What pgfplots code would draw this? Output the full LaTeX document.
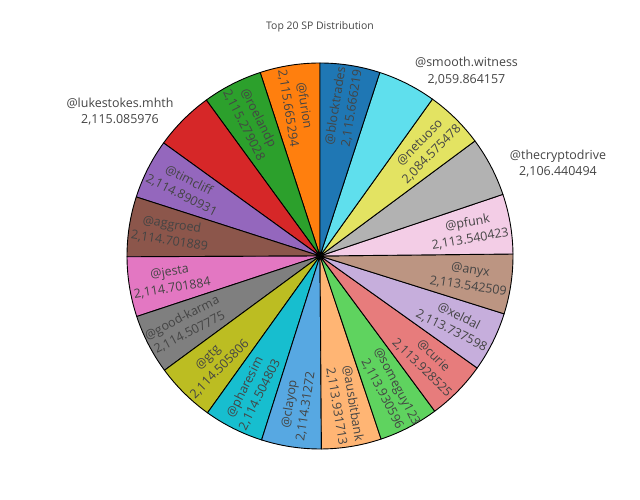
\documentclass[border=0pt]{standalone}
\usepackage{pgfplots}
\pgfplotsset{compat=1.18}
\usepackage{pgfplotstable}
\usepackage{fontspec}
\setmainfont{Open Sans}

\definecolor{txt}{HTML}{444444}
\definecolor{cFurion}{HTML}{FF7F0E}
\definecolor{cRoelandp}{HTML}{2CA02C}
\definecolor{cLuke}{HTML}{D62728}
\definecolor{cTimcliff}{HTML}{9467BD}
\definecolor{cAggroed}{HTML}{8C564B}
\definecolor{cJesta}{HTML}{E377C2}
\definecolor{cKarma}{HTML}{7F7F7F}
\definecolor{cGtg}{HTML}{BCBD22}
\definecolor{cPharesim}{HTML}{17BECF}
\definecolor{cClayop}{HTML}{57A8E2}
\definecolor{cAusbit}{HTML}{FFB574}
\definecolor{cSomeguy}{HTML}{5FD35F}
\definecolor{cCurie}{HTML}{E77C7C}
\definecolor{cXeldal}{HTML}{C6AEDC}
\definecolor{cAnyx}{HTML}{BC9582}
\definecolor{cPfunk}{HTML}{F3CDE6}
\definecolor{cCrypto}{HTML}{B2B2B2}
\definecolor{cNetuoso}{HTML}{E3E362}
\definecolor{cSmooth}{HTML}{5FDFED}
\definecolor{cBlock}{HTML}{1F77B4}

% slices counterclockwise from 12 o'clock; out=1: label outside at (lx,ly)
\pgfplotstableread{
name value num col out lx ly
@furion 2115.665294 2,115.665294 cFurion 0 0 0
@roelandp 2115.279028 2,115.279028 cRoelandp 0 0 0
@lukestokes.mhth 2115.085976 2,115.085976 cLuke 1 -200 144.5
@timcliff 2114.890931 2,114.890931 cTimcliff 0 0 0
@aggroed 2114.701889 2,114.701889 cAggroed 0 0 0
@jesta 2114.701884 2,114.701884 cJesta 0 0 0
@good-karma 2114.507775 2,114.507775 cKarma 0 0 0
@gtg 2114.505806 2,114.505806 cGtg 0 0 0
@pharesim 2114.504803 2,114.504803 cPharesim 0 0 0
@clayop 2114.31272 2,114.31272 cClayop 0 0 0
@ausbitbank 2113.931713 2,113.931713 cAusbit 0 0 0
@someguy123 2113.930596 2,113.930596 cSomeguy 0 0 0
@curie 2113.928525 2,113.928525 cCurie 0 0 0
@xeldal 2113.737598 2,113.737598 cXeldal 0 0 0
@anyx 2113.542509 2,113.542509 cAnyx 0 0 0
@pfunk 2113.540423 2,113.540423 cPfunk 0 0 0
@thecryptodrive 2106.440494 2,106.440494 cCrypto 1 238 92.5
@netuoso 2084.575478 2,084.575478 cNetuoso 0 0 0
@smooth.witness 2059.864157 2,059.864157 cSmooth 1 146.5 185
@blocktrades 2115.666219 2,115.666219 cBlock 0 0 0
}\piedata
\pgfplotstablecreatecol[create col/expr accum={\pgfmathaccuma+\thisrow{value}/100}{0}]{cum}{\piedata}

\newcommand\labfont{\fontsize{12.5}{16.5}\selectfont}

\begin{document}
\begin{tikzpicture}
\useasboundingbox (0,0) rectangle (640bp,500bp);
\begin{axis}[
  at={(0,0)}, anchor=south west,
  x=1bp, y=1bp,
  xmin=-320, xmax=320, ymin=-244, ymax=256,
  hide axis, clip=false,
  ]
\pgfplotsextra{%
  \pgfplotstablegetelem{19}{cum}\of\piedata
  \let\total\pgfplotsretval
  \foreach \i in {0,...,19}{%
    \pgfplotstablegetelem{\i}{cum}\of\piedata \let\ce\pgfplotsretval
    \pgfplotstablegetelem{\i}{value}\of\piedata \let\val\pgfplotsretval
    \pgfplotstablegetelem{\i}{col}\of\piedata \let\slicecol\pgfplotsretval
    \pgfmathsetmacro\aend{90+360*(\ce/\total)}
    \pgfmathsetmacro\astart{90+360*((\ce-\val/100)/\total)}
    \filldraw[fill=\slicecol, draw=black, line width=0.9bp, line join=round]
      (axis cs:0,0) -- (axis cs:{193*cos(\astart)},{193*sin(\astart)})
      arc[start angle=\astart, end angle=\aend, radius=193bp] -- cycle;
  }
  \foreach \i in {0,...,19}{%
    \pgfplotstablegetelem{\i}{cum}\of\piedata \let\ce\pgfplotsretval
    \pgfplotstablegetelem{\i}{value}\of\piedata \let\val\pgfplotsretval
    \pgfplotstablegetelem{\i}{name}\of\piedata \let\slicename\pgfplotsretval
    \pgfplotstablegetelem{\i}{num}\of\piedata \let\slicenum\pgfplotsretval
    \pgfplotstablegetelem{\i}{out}\of\piedata \let\isout\pgfplotsretval
    \pgfplotstablegetelem{\i}{lx}\of\piedata \let\lx\pgfplotsretval
    \pgfplotstablegetelem{\i}{ly}\of\piedata \let\ly\pgfplotsretval
    \pgfmathsetmacro\aend{90+360*(\ce/\total)}
    \pgfmathsetmacro\astart{90+360*((\ce-\val/100)/\total)}
    \pgfmathsetmacro\midang{mod(0.5*(\astart+\aend),360)}
    \pgfmathsetmacro\rot{ifthenelse(\midang>90,ifthenelse(\midang<270,\midang-180,\midang-360),\midang)}
    \ifnum\isout=0
      \node[rotate=\rot, align=center, text=txt, font=\labfont, inner sep=0pt]
        at (axis cs:{151*cos(\midang)},{151*sin(\midang)}) {\slicename\\\slicenum};
    \else
      \node[align=center, text=txt, font=\labfont, inner sep=0pt]
        at (axis cs:\lx,\ly) {\slicename\\\slicenum};
    \fi
  }
  \node[text=txt, font=\fontsize{10.5}{12}\selectfont] at (axis cs:0,229) {Top 20 SP Distribution};
}
\end{axis}
\end{tikzpicture}
\end{document}
